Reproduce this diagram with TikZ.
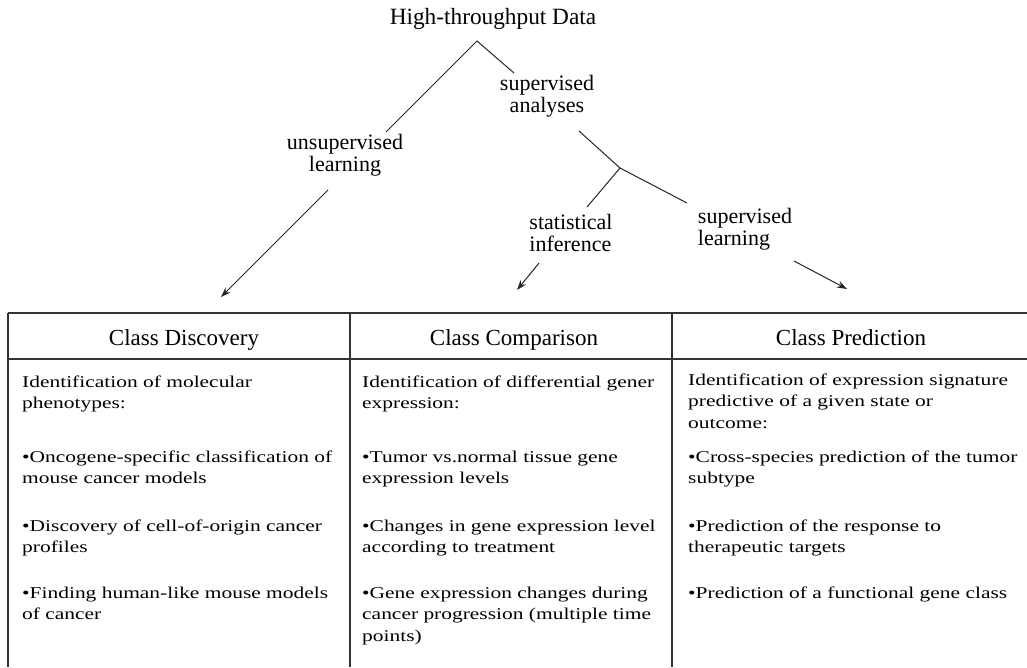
\documentclass[tikz,border=0pt]{standalone}
\usepackage{fontspec}
\setmainfont{Liberation Serif}
\newfontfamily\bodyfont[FakeStretch=1.3]{Liberation Serif}
\usepackage{tikz}
\usetikzlibrary{arrows.meta}

\tikzset{
  branch/.style={line width=1pt, black!85},
  pointer/.style={branch, -{Stealth[length=10pt, width=7pt]}},
  rule/.style={line width=1.6pt, black!80},
  treelabel/.style={inner sep=0pt, font=\fontsize{22}{22}\selectfont},
  classhead/.style={inner sep=0pt, anchor=base, font=\fontsize{23}{26}\selectfont},
  cell/.style={inner sep=0pt, anchor=base west, align=left,
    font=\bodyfont\fontsize{16.5}{21.5}\selectfont}
}

\begin{document}
\begin{tikzpicture}[x=1pt, y=-1pt]
    \useasboundingbox (0,0) rectangle (1027,667);

    % tree
    \node[treelabel, font=\fontsize{23.3}{24}\selectfont] (data) at (493,19) {High-throughput Data};
    \node[treelabel, align=center] (unsup) at (345,155) {unsupervised\\learning};
    \node[treelabel, align=center] (supan) at (547,96) {supervised\\analyses};
    \node[treelabel, align=left] (stat) at (571,233) {statistical\\inference};
    \node[treelabel, align=left] (suplrn) at (745,229) {supervised\\learning};

    \coordinate (root) at (477,41);
    \coordinate (rootL) at (386,132);
    \coordinate (rootR) at (514,73);
    \coordinate (supTop) at (579,131);
    \coordinate (fork) at (620,168);
    \coordinate (forkL) at (587,207);
    \coordinate (forkR) at (687,203);

    \draw[branch] (rootL) -- (root) -- (rootR);
    \draw[branch] (supTop) -- (fork);
    \draw[branch] (forkL) -- (fork) -- (forkR);

    \coordinate (unsupOut) at (328,190);
    \coordinate (statOut) at (539,263);
    \coordinate (suplrnOut) at (794,261);
    \coordinate (discIn) at (221,297);
    \coordinate (compIn) at (517,290);
    \coordinate (predIn) at (847,289);

    \draw[pointer] (unsupOut) -- (discIn);
    \draw[pointer] (statOut) -- (compIn);
    \draw[pointer] (suplrnOut) -- (predIn);

    % table
    \draw[rule] (8,313) -- (1027,313);
    \draw[rule] (8,359) -- (1027,359);
    \foreach \x in {8,350,672}{
      \draw[rule] (\x,313) -- (\x,667);
    }

    \node[classhead] (disc) at (184,345) {Class Discovery};
    \node[classhead] (comp) at (514,345) {Class Comparison};
    \node[classhead] (pred) at (851,345) {Class Prediction};

    % base anchor = last line
    \node[cell] (disc1) at (22,408.5) {Identification of molecular\\phenotypes:};
    \node[cell] (disc2) at (22,483.5) {•Oncogene-specific classification of\\mouse cancer models};
    \node[cell] (disc3) at (22,552.5) {•Discovery of cell-of-origin cancer\\profiles};
    \node[cell] (disc4) at (22,619.5) {•Finding human-like mouse models\\of cancer};

    \node[cell] (comp1) at (362,408.5) {Identification of differential gener\\expression:};
    \node[cell] (comp2) at (362,483.5) {•Tumor vs.normal tissue gene\\expression levels};
    \node[cell] (comp3) at (362,552.5) {•Changes in gene expression level\\according to treatment};
    \node[cell] (comp4) at (362,641) {•Gene expression changes during\\cancer progression (multiple time\\points)};

    \node[cell] (pred1) at (688,428) {Identification of expression signature\\predictive of a given state or\\outcome:};
    \node[cell] (pred2) at (688,483.5) {•Cross-species prediction of the tumor\\subtype};
    \node[cell] (pred3) at (688,552.5) {•Prediction of the response to\\therapeutic targets};
    \node[cell] (pred4) at (688,598) {•Prediction of a functional gene class};
\end{tikzpicture}
\end{document}
